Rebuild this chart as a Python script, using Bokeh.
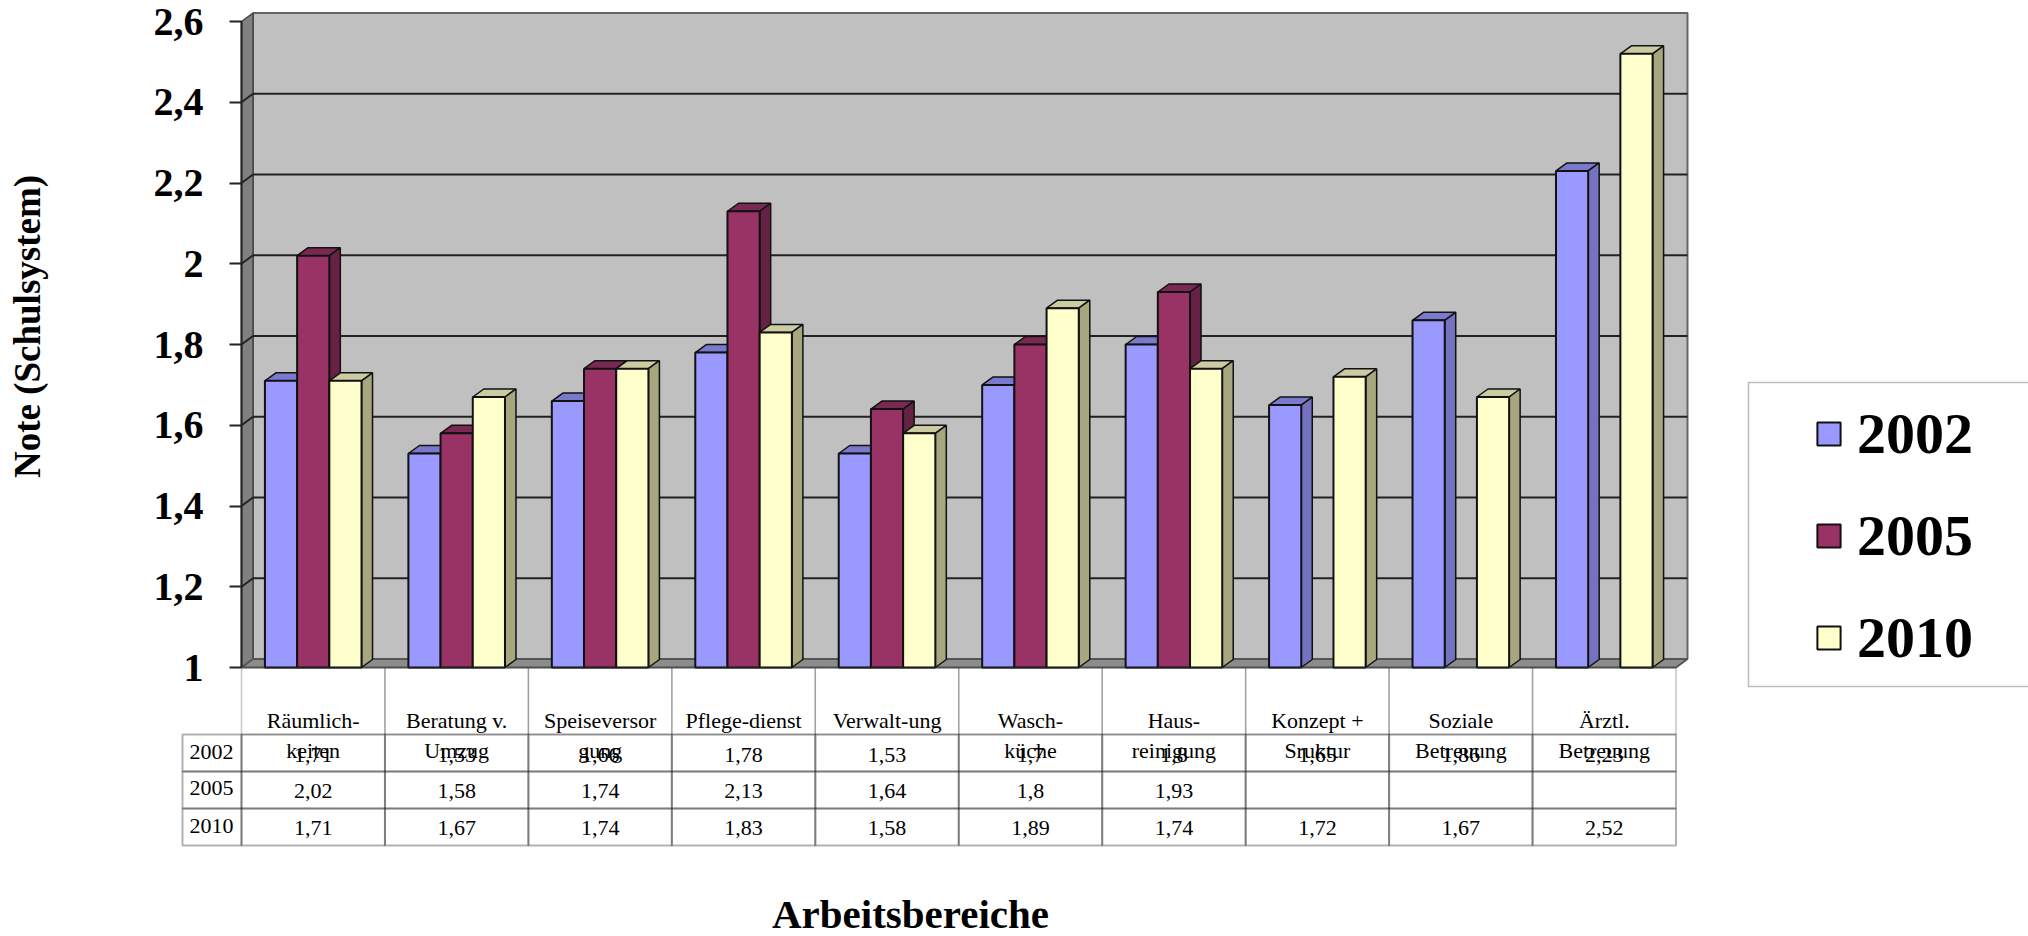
from math import pi
from bokeh.embed import file_html
from bokeh.resources import INLINE
from bokeh.plotting import figure
from bokeh.models import (Range1d, FixedTicker, Legend, LegendItem, Label, LabelSet,
                          BoxAnnotation, ColumnDataSource)

categories = ["Räumlich-\nkeiten", "Beratung v.\nUmzug", "Speiseversor\ngung", "Pflege-dienst",
              "Verwalt-ung", "Wasch-\nküche", "Haus-\nreinigung", "Konzept +\nSruktur",
              "Soziale\nBetreuung", "Ärztl.\nBetreuung"]
years = ["2002", "2005", "2010"]
v2002 = [1.71, 1.53, 1.66, 1.78, 1.53, 1.7, 1.8, 1.65, 1.86, 2.23]
v2005 = [2.02, 1.58, 1.74, 2.13, 1.64, 1.8, 1.93, None, None, None]
v2010 = [1.71, 1.67, 1.74, 1.83, 1.58, 1.89, 1.74, 1.72, 1.67, 2.52]
y_ticks = [1, 1.2, 1.4, 1.6, 1.8, 2, 2.2, 2.4, 2.6]
y_tick_labels = ["1", "1,2", "1,4", "1,6", "1,8", "2", "2,2", "2,4", "2,6"]

front_colors = ["#9999FF", "#993366", "#FFFFCC"]
top_colors = ["#7A7ACC", "#7A2952", "#CCCCA3"]
side_colors = ["#7373BF", "#662244", "#A6A67F"]

SERIF = "Liberation Serif"
PX_X = 143.45   # screen px per category
PX_Y = 403.75   # screen px per y unit
FRAME_L, Y_ONE = 241, 667
W, H = 2028, 936


def xd(px):
    return (px - FRAME_L) / PX_X


def yd(px):
    return 1 + (Y_ONE - px) / PX_Y


p = figure(width=W, height=H, output_backend="svg", toolbar_location=None,
           x_range=Range1d(xd(0), xd(W)),
           y_range=Range1d(yd(H), yd(0)),
           min_border_left=0, min_border_right=0, min_border_top=0,
           min_border_bottom=0, background_fill_color=None,
           border_fill_color=None, outline_line_color=None)
p.grid.visible = False

# walls
wdx, wdy = 11.5 / PX_X, 8.5 / PX_Y
top, n = y_ticks[-1], len(categories)
WALL = "#C0C0C0"
p.patch([wdx, n + wdx, n + wdx, wdx], [1 + wdy, 1 + wdy, top + wdy, top + wdy],
        fill_color=WALL, line_color="#666666", line_width=2)
p.patch([0, wdx, wdx, 0], [1, 1 + wdy, top + wdy, top], fill_color="#808080",
        line_color="#444444", line_width=1.5)
p.patch([0, n, n + wdx, wdx], [1, 1, 1 + wdy, 1 + wdy], fill_color="#8C8C8C",
        line_color="#555555", line_width=2)
grid_y = y_ticks[1:-1]
p.segment([wdx] * len(grid_y), [y + wdy for y in grid_y], [n + wdx] * len(grid_y),
          [y + wdy for y in grid_y], line_color="#222222", line_width=2)
p.segment([0] * len(grid_y), grid_y, [wdx] * len(grid_y), [y + wdy for y in grid_y],
          line_color="#222222", line_width=2)

# bars
bw = 32.2 / PX_X
ddx, ddy = 11 / PX_X, 8 / PX_Y
legend_items = []
for s, vals in enumerate([v2002, v2005, v2010]):
    xs = [i + 0.5 + (s - 1) * bw for i, v in enumerate(vals) if v is not None]
    ys = [v for v in vals if v is not None]
    p.patches([[x - bw / 2, x + bw / 2, x + bw / 2 + ddx, x - bw / 2 + ddx] for x in xs],
              [[v, v, v + ddy, v + ddy] for v in ys],
              fill_color=top_colors[s], line_color="#111111", line_width=1.5)
    p.patches([[x + bw / 2, x + bw / 2 + ddx, x + bw / 2 + ddx, x + bw / 2] for x in xs],
              [[1, 1 + ddy, v + ddy, v] for v in ys],
              fill_color=side_colors[s], line_color="#111111", line_width=1.5)
    r = p.vbar(x=xs, top=ys, bottom=1, width=bw, fill_color=front_colors[s],
               line_color="#111111", line_width=2)
    legend_items.append(LegendItem(label=years[s], renderers=[r]))

# y axis
ax = p.yaxis[0]
ax.fixed_location = 0
ax.bounds = (1, 2.6)
ax.ticker = FixedTicker(ticks=y_ticks)
ax.major_label_overrides = dict(zip(y_ticks, y_tick_labels))
ax.major_tick_out, ax.major_tick_in, ax.minor_tick_out, ax.minor_tick_in = 12, 0, 0, 0
ax.major_tick_line_color = "#222222"
ax.major_tick_line_width = 2
ax.axis_line_color = "#222222"
ax.axis_line_width = 2
ax.major_label_standoff = 26
ax.major_label_text_font = SERIF
ax.major_label_text_font_style = "bold"
ax.major_label_text_font_size = "40px"
ax.major_label_text_color = "black"

# x axis: category labels in the table's head row
xa = p.xaxis[0]
xa.fixed_location = 1
xa.bounds = (0, n)
cat_ticks = [i + 0.5 for i in range(n)]
xa.ticker = FixedTicker(ticks=cat_ticks)
xa.major_label_overrides = dict(zip(cat_ticks, categories))
xa.axis_line_color = None
xa.major_tick_line_color = None
xa.minor_tick_line_color = None
xa.major_tick_out = 0
xa.major_label_standoff = 40
xa.major_label_text_font = SERIF
xa.major_label_text_font_size = "22px"
xa.major_label_text_color = "black"
xa.major_label_orientation = "horizontal"

# table grid
table_rows = [734, 771, 808, 845]
for i in range(n):
    p.add_layout(BoxAnnotation(left=i, right=i + 1, top=yd(Y_ONE), bottom=yd(table_rows[0]),
                               fill_color=None, line_color="#444444", line_width=1.5))
for r0, r1 in zip(table_rows[:-1], table_rows[1:]):
    p.add_layout(BoxAnnotation(left=xd(182), right=0, top=yd(r0), bottom=yd(r1),
                               fill_color=None, line_color="#000000", line_width=2))
    for i in range(n):
        p.add_layout(BoxAnnotation(left=i, right=i + 1, top=yd(r0), bottom=yd(r1),
                                   fill_color=None, line_color="#000000", line_width=2))

# table values
row_text_y = [754, 790, 827]
row_head_y = [751, 787, 825]
tx, ty, tt = [], [], []
for vals, py in zip([v2002, v2005, v2010], row_text_y):
    for i, v in enumerate(vals):
        if v is not None:
            tx.append(i + 0.5)
            ty.append(yd(py))
            tt.append(f"{v:g}".replace(".", ","))
p.add_layout(LabelSet(x="x", y="y", text="t", source=ColumnDataSource(dict(x=tx, y=ty, t=tt)),
                      text_align="center", text_baseline="middle", text_font=SERIF,
                      text_font_size="22px", text_color="black"))
p.add_layout(LabelSet(x="x", y="y", text="t",
                      source=ColumnDataSource(dict(x=[xd(211)] * 3, y=[yd(v) for v in row_head_y], t=years)),
                      text_align="center", text_baseline="middle", text_font=SERIF,
                      text_font_size="22px", text_color="black"))

# axis titles
p.add_layout(Label(x=xd(27), y=yd(326), text="Note (Schulsystem)", angle=pi / 2, angle_units="rad",
                   text_align="center", text_baseline="middle", text_font=SERIF,
                   text_font_style="bold", text_font_size="37px", text_color="black"))
p.add_layout(Label(x=xd(910), y=yd(913), text="Arbeitsbereiche", text_align="center",
                   text_baseline="middle", text_font=SERIF, text_font_style="bold",
                   text_font_size="41px", text_color="black"))

# legend
p.add_layout(BoxAnnotation(left=xd(1748), right=xd(2060), top=yd(382), bottom=yd(686),
                           fill_color="white", line_color="#222222", line_width=1.5))
legend = Legend(items=legend_items, location=(1814, H - 671), padding=0, margin=0,
                spacing=35, glyph_width=29, glyph_height=29, label_standoff=14,
                background_fill_alpha=0, border_line_color=None, label_text_font=SERIF,
                label_text_font_style="bold", label_text_font_size="58px",
                label_text_color="black")
p.add_layout(legend, "center")

open("out.html", "w").write(file_html(p, INLINE))
